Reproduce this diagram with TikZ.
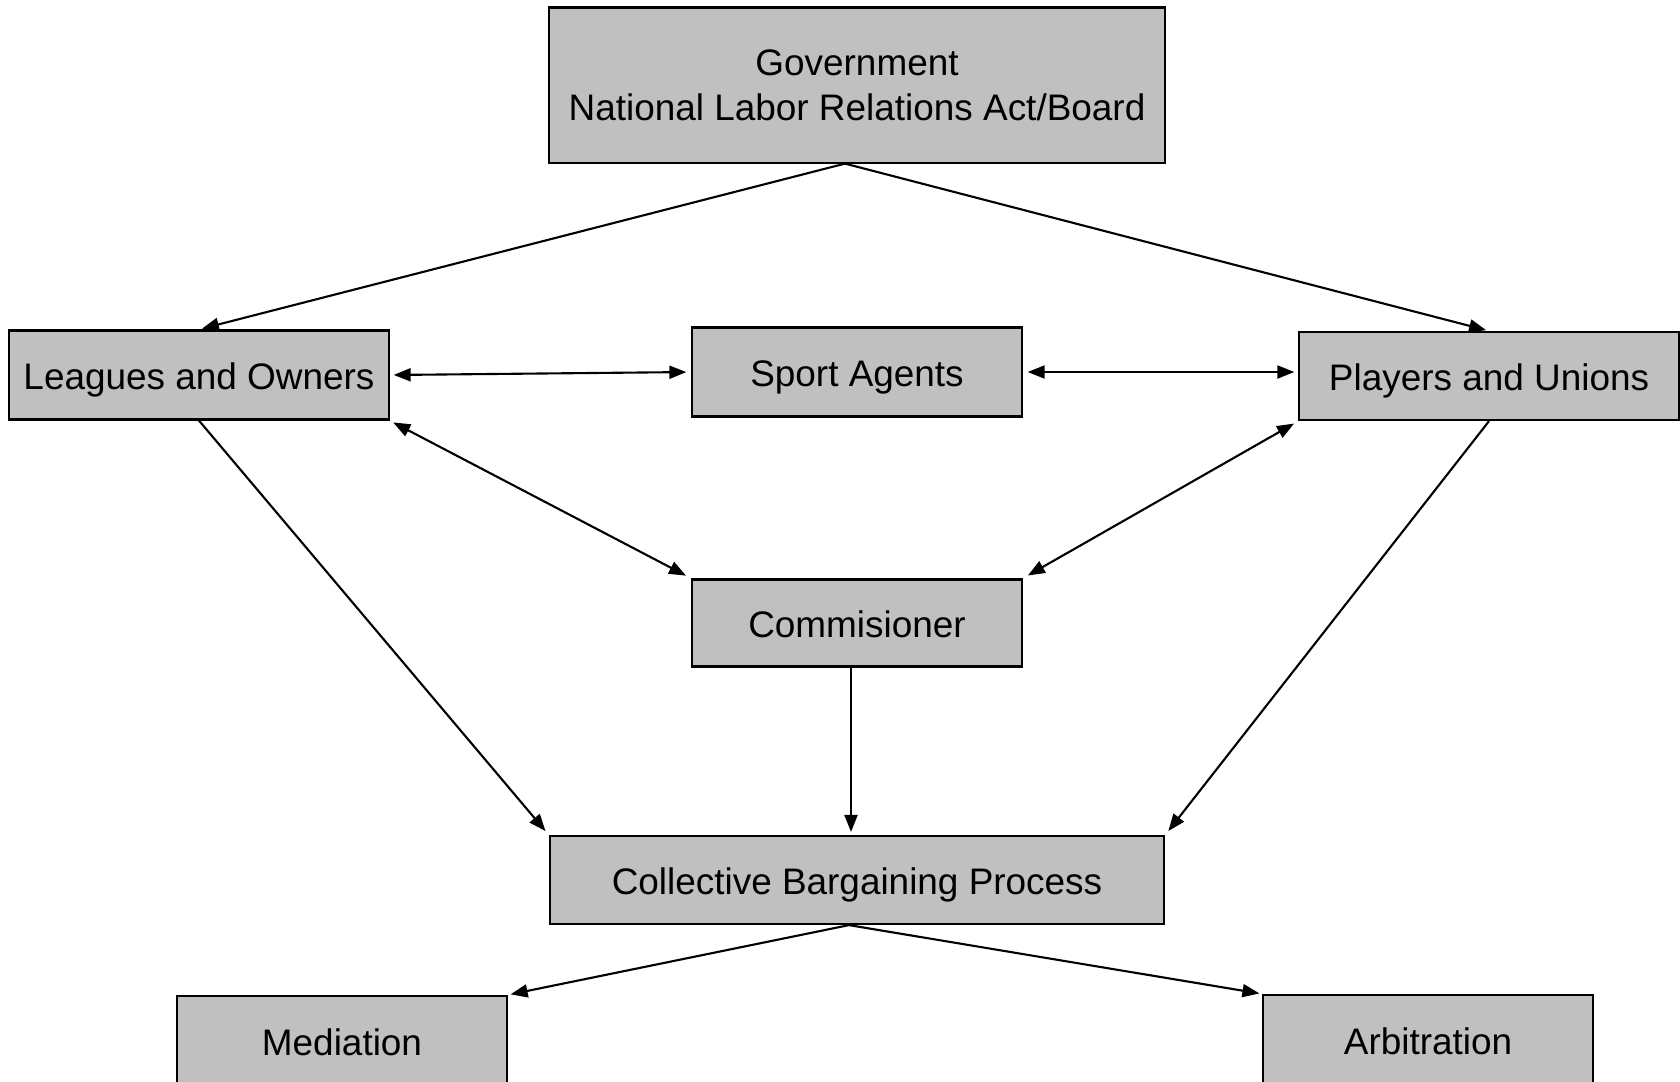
\documentclass[tikz,border=0pt]{standalone}
\usepackage{fontspec}
\setmainfont{Liberation Sans}
\usetikzlibrary{positioning,arrows.meta}
\definecolor{boxgray}{RGB}{192,192,192}
\begin{document}
\begin{tikzpicture}[x=0.01cm, y=-0.01cm, font=\fontsize{10.5pt}{12.8pt}\selectfont,
    >={Triangle[length=0.17cm, width=0.13cm]},
    box/.style={draw, line width=0.6pt, fill=boxgray, align=center, inner sep=0pt},
    onebox/.style={box, text height=10.6pt, text depth=2.2pt},
    link/.style={line width=0.6pt, shorten >=0.03cm}]
    \useasboundingbox (0,0) rectangle (1680,1081);

    \node [box, minimum width=6.16cm, minimum height=1.55cm, text depth=-1.4pt] (gov) at (857,85) {Government\\National Labor Relations Act/Board};

    \node [onebox, minimum width=3.79cm, minimum height=0.89cm] (leagues) at (199,375) {Leagues and Owners};
    \node [onebox, minimum width=3.29cm, minimum height=0.89cm] (agents) at (857,372) {Sport Agents};
    \node [onebox, minimum width=3.79cm, minimum height=0.88cm] (players) at (1489,376) {Players and Unions};

    \node [onebox, minimum width=3.29cm, minimum height=0.87cm] (comm) at (857,623) {Commisioner};

    \node [onebox, minimum width=6.14cm, minimum height=0.88cm] (cbp) at (857,880) {Collective Bargaining Process};

    % cut off at the bottom edge
    \node [onebox, minimum width=3.29cm, minimum height=0.90cm] (mediation) at (342,1041) {Mediation};
    \node [onebox, minimum width=3.29cm, minimum height=0.90cm] (arbitration) at (1428,1040) {Arbitration};

    % arrows
    \draw [link, ->] ([xshift=-0.12cm]gov.south) -- (leagues.north);
    \draw [link, ->] ([xshift=-0.12cm]gov.south) -- (players.north);
    \draw [link, <->, shorten <=0.04cm, shorten >=0.05cm] (leagues.east) -- (agents.west);
    \draw [link, <->, shorten <=0.05cm, shorten >=0.04cm] (agents.east) -- (agents.east -| players.west);
    \draw [link, <->, shorten <=0.04cm, shorten >=0.06cm] (leagues.south east) -- (comm.north west);
    \draw [link, <->, shorten <=0.05cm, shorten >=0.06cm] (players.south west) -- (comm.north east);
    \draw [link, ->, shorten >=0.05cm] (leagues.south) -- (cbp.north west);
    \draw [link, ->, shorten >=0.05cm] (players.south) -- (cbp.north east);
    \draw [link, ->] ([xshift=-0.06cm]comm.south) -- ([xshift=-0.06cm]cbp.north);
    \draw [link, ->] ([xshift=-0.08cm]cbp.south) -- (mediation.north east);
    \draw [link, ->] ([xshift=-0.08cm]cbp.south) -- (arbitration.north west);

\end{tikzpicture}
\end{document}
